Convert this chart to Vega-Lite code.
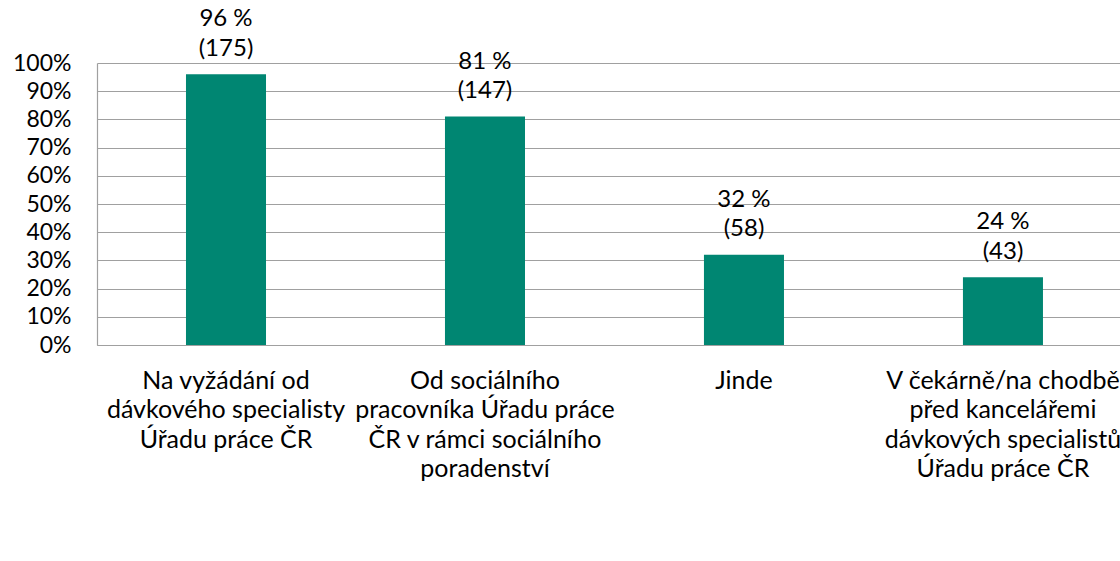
{
  "$schema": "https://vega.github.io/schema/vega-lite/v6.json",
  "autosize": "none",
  "padding": {"left": 97, "top": 63, "right": 0, "bottom": 216},
  "width": 1023,
  "height": 282,
  "background": "white",
  "config": {
    "view": {"stroke": null},
    "font": "Lato"
  },
  "data": {
    "values": [
      {"kategorie": "Na vyžádání od|dávkového specialisty|Úřadu práce ČR", "podil": 0.96, "popisek": "96  %\n(175)"},
      {"kategorie": "Od sociálního|pracovníka Úřadu práce|ČR v rámci sociálního|poradenství", "podil": 0.81, "popisek": "81 %\n(147)"},
      {"kategorie": "Jinde", "podil": 0.32, "popisek": "32 %\n(58)"},
      {"kategorie": "V čekárně/na chodbě|před kancelářemi|dávkových specialistů|Úřadu práce ČR", "podil": 0.24, "popisek": "24 %\n(43)"}
    ]
  },
  "encoding": {
    "x": {
      "field": "kategorie",
      "type": "nominal",
      "sort": null,
      "scale": {"paddingInner": 0.691, "paddingOuter": 0.3205, "align": 0.536},
      "axis": {
        "title": null,
        "labelAngle": 0,
        "labelExpr": "split(datum.value, '|')",
        "labelFont": "Lato",
        "labelFontSize": 25,
        "labelColor": "#000000",
        "labelLineHeight": 29.5,
        "labelPadding": 23,
        "labelBaseline": "top",
        "ticks": false,
        "domain": true,
        "domainColor": "#a0a0a0",
        "domainWidth": 1.2,
        "labelLimit": 400
      }
    },
    "y": {
      "field": "podil",
      "type": "quantitative",
      "scale": {"domain": [0, 1]},
      "axis": {
        "title": null,
        "format": ".0%",
        "values": [0, 0.1, 0.2, 0.3, 0.4, 0.5, 0.6, 0.7, 0.8, 0.9, 1.0],
        "labelFont": "Lato",
        "labelFontSize": 23,
        "labelColor": "#000000",
        "labelPadding": 26,
        "ticks": false,
        "grid": true,
        "gridColor": "#a0a0a0",
        "gridWidth": 1.2,
        "domainColor": "#a0a0a0",
        "domainWidth": 1.2
      }
    }
  },
  "layer": [
    {"mark": {"type": "bar", "color": "#008672"}},
    {
      "mark": {"type": "text", "lineBreak": "\n", "baseline": "bottom", "dy": -43, "fontSize": 24, "lineHeight": 29.5, "color": "#000000", "font": "Lato"},
      "encoding": {"text": {"field": "popisek"}}
    }
  ]
}
